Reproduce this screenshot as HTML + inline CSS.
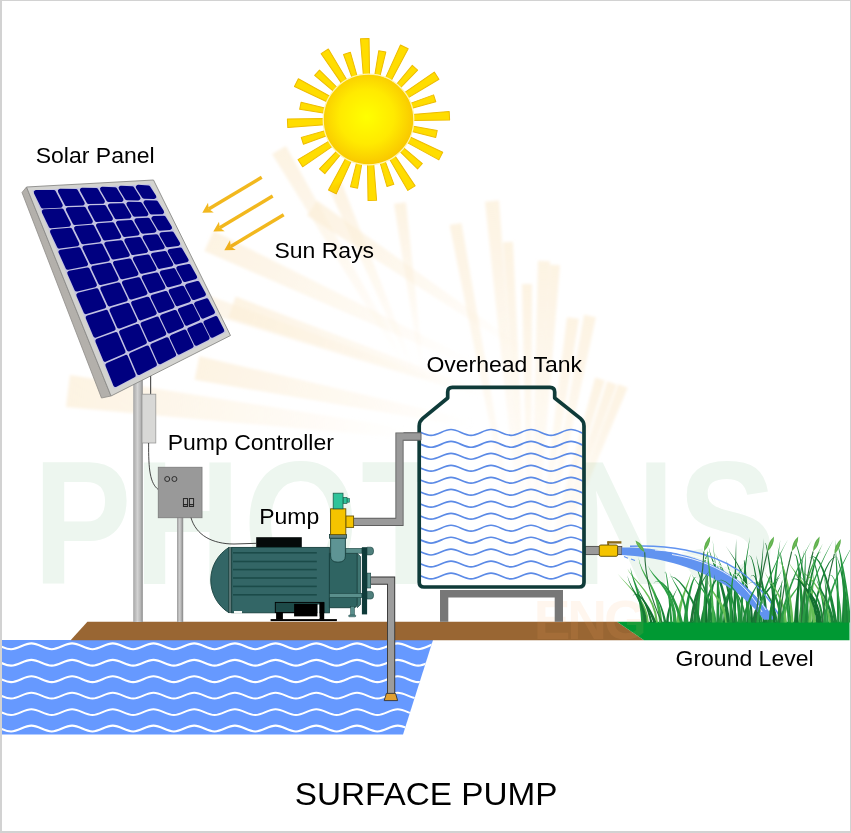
<!DOCTYPE html>
<html><head><meta charset="utf-8"><title>Surface Pump</title>
<style>html,body{margin:0;padding:0;background:#fff;}body{width:851px;height:833px;overflow:hidden;font-family:"Liberation Sans",sans-serif;}svg{display:block;}</style>
</head><body>
<svg width="851" height="833" viewBox="0 0 851 833">
<defs>
<radialGradient id="sunG" cx="0.48" cy="0.47" r="0.55">
  <stop offset="0" stop-color="#ffff00"/>
  <stop offset="0.55" stop-color="#ffea00"/>
  <stop offset="1" stop-color="#f8c400"/>
</radialGradient>
<linearGradient id="poleG" x1="0" y1="0" x2="1" y2="0">
  <stop offset="0" stop-color="#a6a6a6"/>
  <stop offset="0.45" stop-color="#d2d2d2"/>
  <stop offset="0.75" stop-color="#b8b8b8"/>
  <stop offset="1" stop-color="#8a8a8a"/>
</linearGradient>
<linearGradient id="pole2G" x1="0" y1="0" x2="1" y2="0">
  <stop offset="0" stop-color="#9c9c9c"/>
  <stop offset="0.45" stop-color="#d0d0d0"/>
  <stop offset="1" stop-color="#858585"/>
</linearGradient>
<radialGradient id="beamR" gradientUnits="userSpaceOnUse" cx="540" cy="730" r="600">
  <stop offset="0" stop-color="#fbe2b8" stop-opacity="0"/>
  <stop offset="0.45" stop-color="#fbe2b8" stop-opacity="0.10"/>
  <stop offset="0.8" stop-color="#fbe2b8" stop-opacity="0.45"/>
  <stop offset="1" stop-color="#fbe2b8" stop-opacity="0.5"/>
</radialGradient>
</defs>
<rect x="0" y="0" width="851" height="833" fill="#ffffff"/>
<text transform="translate(33,583.5) scale(0.84,1)" font-family="Liberation Sans" font-weight="bold" font-size="176" letter-spacing="3" fill="#edf6ef">PHOTONS</text>
<g transform="translate(368.5,119.5)">
<polygon transform="rotate(-2.65)" points="-3.1,-44 -4.3,-81 4.3,-81 3.1,-44" fill="#ffdd00" stroke="#eebc00" stroke-width="1" stroke-linejoin="round"/>
<polygon transform="rotate(11.45)" points="-2.6,-44 -3.6,-69.5 3.6,-69.5 2.6,-44" fill="#ffdd00" stroke="#eebc00" stroke-width="1" stroke-linejoin="round"/>
<polygon transform="rotate(26.25)" points="-3.1,-44 -4.3,-81 4.3,-81 3.1,-44" fill="#ffdd00" stroke="#eebc00" stroke-width="1" stroke-linejoin="round"/>
<polygon transform="rotate(41.95)" points="-2.6,-44 -3.6,-69.5 3.6,-69.5 2.6,-44" fill="#ffdd00" stroke="#eebc00" stroke-width="1" stroke-linejoin="round"/>
<polygon transform="rotate(57.25)" points="-3.1,-44 -4.3,-81 4.3,-81 3.1,-44" fill="#ffdd00" stroke="#eebc00" stroke-width="1" stroke-linejoin="round"/>
<polygon transform="rotate(72.25)" points="-2.6,-44 -3.6,-69.5 3.6,-69.5 2.6,-44" fill="#ffdd00" stroke="#eebc00" stroke-width="1" stroke-linejoin="round"/>
<polygon transform="rotate(87.4)" points="-3.1,-44 -4.3,-81 4.3,-81 3.1,-44" fill="#ffdd00" stroke="#eebc00" stroke-width="1" stroke-linejoin="round"/>
<polygon transform="rotate(102)" points="-2.6,-44 -3.6,-69.5 3.6,-69.5 2.6,-44" fill="#ffdd00" stroke="#eebc00" stroke-width="1" stroke-linejoin="round"/>
<polygon transform="rotate(116.8)" points="-3.1,-44 -4.3,-81 4.3,-81 3.1,-44" fill="#ffdd00" stroke="#eebc00" stroke-width="1" stroke-linejoin="round"/>
<polygon transform="rotate(132.2)" points="-2.6,-44 -3.6,-69.5 3.6,-69.5 2.6,-44" fill="#ffdd00" stroke="#eebc00" stroke-width="1" stroke-linejoin="round"/>
<polygon transform="rotate(147.95)" points="-3.1,-44 -4.3,-81 4.3,-81 3.1,-44" fill="#ffdd00" stroke="#eebc00" stroke-width="1" stroke-linejoin="round"/>
<polygon transform="rotate(161.6)" points="-2.6,-44 -3.6,-69.5 3.6,-69.5 2.6,-44" fill="#ffdd00" stroke="#eebc00" stroke-width="1" stroke-linejoin="round"/>
<polygon transform="rotate(177.3)" points="-3.1,-44 -4.3,-81 4.3,-81 3.1,-44" fill="#ffdd00" stroke="#eebc00" stroke-width="1" stroke-linejoin="round"/>
<polygon transform="rotate(192)" points="-2.6,-44 -3.6,-69.5 3.6,-69.5 2.6,-44" fill="#ffdd00" stroke="#eebc00" stroke-width="1" stroke-linejoin="round"/>
<polygon transform="rotate(206.5)" points="-3.1,-44 -4.3,-81 4.3,-81 3.1,-44" fill="#ffdd00" stroke="#eebc00" stroke-width="1" stroke-linejoin="round"/>
<polygon transform="rotate(221.85)" points="-2.6,-44 -3.6,-69.5 3.6,-69.5 2.6,-44" fill="#ffdd00" stroke="#eebc00" stroke-width="1" stroke-linejoin="round"/>
<polygon transform="rotate(237.35)" points="-3.1,-44 -4.3,-81 4.3,-81 3.1,-44" fill="#ffdd00" stroke="#eebc00" stroke-width="1" stroke-linejoin="round"/>
<polygon transform="rotate(252.15)" points="-2.6,-44 -3.6,-69.5 3.6,-69.5 2.6,-44" fill="#ffdd00" stroke="#eebc00" stroke-width="1" stroke-linejoin="round"/>
<polygon transform="rotate(267.3)" points="-3.1,-44 -4.3,-81 4.3,-81 3.1,-44" fill="#ffdd00" stroke="#eebc00" stroke-width="1" stroke-linejoin="round"/>
<polygon transform="rotate(281.4)" points="-2.6,-44 -3.6,-69.5 3.6,-69.5 2.6,-44" fill="#ffdd00" stroke="#eebc00" stroke-width="1" stroke-linejoin="round"/>
<polygon transform="rotate(297.1)" points="-3.1,-44 -4.3,-81 4.3,-81 3.1,-44" fill="#ffdd00" stroke="#eebc00" stroke-width="1" stroke-linejoin="round"/>
<polygon transform="rotate(312.25)" points="-2.6,-44 -3.6,-69.5 3.6,-69.5 2.6,-44" fill="#ffdd00" stroke="#eebc00" stroke-width="1" stroke-linejoin="round"/>
<polygon transform="rotate(327.3)" points="-3.1,-44 -4.3,-81 4.3,-81 3.1,-44" fill="#ffdd00" stroke="#eebc00" stroke-width="1" stroke-linejoin="round"/>
<polygon transform="rotate(341.95)" points="-2.6,-44 -3.6,-69.5 3.6,-69.5 2.6,-44" fill="#ffdd00" stroke="#eebc00" stroke-width="1" stroke-linejoin="round"/>
<circle cx="0" cy="0" r="45.3" fill="url(#sunG)" stroke="#fff4b0" stroke-width="1.2"/>
</g>
<line x1="261.7" y1="177.3" x2="208.74" y2="208.95" stroke="#f2b81e" stroke-width="3.4"/><polygon points="202.3,212.8 208.01,202.86 208.74,208.95 213.76,212.48" fill="#f2b81e"/>
<line x1="272.7" y1="196" x2="219.73" y2="227.74" stroke="#f2b81e" stroke-width="3.4"/><polygon points="213.3,231.6 219,221.66 219.73,227.74 224.76,231.26" fill="#f2b81e"/>
<line x1="283.7" y1="214.8" x2="230.74" y2="246.45" stroke="#f2b81e" stroke-width="3.4"/><polygon points="224.3,250.3 230.01,240.36 230.74,246.45 235.76,249.98" fill="#f2b81e"/>
<clipPath id="wclip"><polygon points="2,640 433,640 403,734.5 2,734.5"/></clipPath>
<polygon points="2,640 433,640 403,734.5 2,734.5" fill="#6699ff"/>
<g clip-path="url(#wclip)" fill="none" stroke="#ffffff" stroke-width="2.1" stroke-linecap="round">
<path d="M-9.3,643.4C-1.82,643.4 3.57,649.2 11.05,649.2C18.53,649.2 23.92,643.4 31.4,643.4C38.88,643.4 44.27,649.2 51.75,649.2C59.23,649.2 64.62,643.4 72.1,643.4C79.58,643.4 84.97,649.2 92.45,649.2C99.93,649.2 105.32,643.4 112.8,643.4C120.28,643.4 125.67,649.2 133.15,649.2C140.63,649.2 146.02,643.4 153.5,643.4C160.98,643.4 166.37,649.2 173.85,649.2C181.33,649.2 186.72,643.4 194.2,643.4C201.68,643.4 207.07,649.2 214.55,649.2C222.03,649.2 227.42,643.4 234.9,643.4C242.38,643.4 247.77,649.2 255.25,649.2C262.73,649.2 268.12,643.4 275.6,643.4C283.08,643.4 288.47,649.2 295.95,649.2C303.43,649.2 308.82,643.4 316.3,643.4C323.78,643.4 329.17,649.2 336.65,649.2C344.13,649.2 349.52,643.4 357,643.4C364.48,643.4 369.87,649.2 377.35,649.2C384.83,649.2 390.22,643.4 397.7,643.4C405.18,643.4 410.57,649.2 418.05,649.2C425.53,649.2 430.92,643.4 438.4,643.4C445.88,643.4 451.27,649.2 458.75,649.2"/>
<path d="M-9.3,659.85C-1.82,659.85 3.57,665.65 11.05,665.65C18.53,665.65 23.92,659.85 31.4,659.85C38.88,659.85 44.27,665.65 51.75,665.65C59.23,665.65 64.62,659.85 72.1,659.85C79.58,659.85 84.97,665.65 92.45,665.65C99.93,665.65 105.32,659.85 112.8,659.85C120.28,659.85 125.67,665.65 133.15,665.65C140.63,665.65 146.02,659.85 153.5,659.85C160.98,659.85 166.37,665.65 173.85,665.65C181.33,665.65 186.72,659.85 194.2,659.85C201.68,659.85 207.07,665.65 214.55,665.65C222.03,665.65 227.42,659.85 234.9,659.85C242.38,659.85 247.77,665.65 255.25,665.65C262.73,665.65 268.12,659.85 275.6,659.85C283.08,659.85 288.47,665.65 295.95,665.65C303.43,665.65 308.82,659.85 316.3,659.85C323.78,659.85 329.17,665.65 336.65,665.65C344.13,665.65 349.52,659.85 357,659.85C364.48,659.85 369.87,665.65 377.35,665.65C384.83,665.65 390.22,659.85 397.7,659.85C405.18,659.85 410.57,665.65 418.05,665.65C425.53,665.65 430.92,659.85 438.4,659.85C445.88,659.85 451.27,665.65 458.75,665.65"/>
<path d="M-9.3,676.3C-1.82,676.3 3.57,682.1 11.05,682.1C18.53,682.1 23.92,676.3 31.4,676.3C38.88,676.3 44.27,682.1 51.75,682.1C59.23,682.1 64.62,676.3 72.1,676.3C79.58,676.3 84.97,682.1 92.45,682.1C99.93,682.1 105.32,676.3 112.8,676.3C120.28,676.3 125.67,682.1 133.15,682.1C140.63,682.1 146.02,676.3 153.5,676.3C160.98,676.3 166.37,682.1 173.85,682.1C181.33,682.1 186.72,676.3 194.2,676.3C201.68,676.3 207.07,682.1 214.55,682.1C222.03,682.1 227.42,676.3 234.9,676.3C242.38,676.3 247.77,682.1 255.25,682.1C262.73,682.1 268.12,676.3 275.6,676.3C283.08,676.3 288.47,682.1 295.95,682.1C303.43,682.1 308.82,676.3 316.3,676.3C323.78,676.3 329.17,682.1 336.65,682.1C344.13,682.1 349.52,676.3 357,676.3C364.48,676.3 369.87,682.1 377.35,682.1C384.83,682.1 390.22,676.3 397.7,676.3C405.18,676.3 410.57,682.1 418.05,682.1C425.53,682.1 430.92,676.3 438.4,676.3C445.88,676.3 451.27,682.1 458.75,682.1"/>
<path d="M-9.3,692.75C-1.82,692.75 3.57,698.55 11.05,698.55C18.53,698.55 23.92,692.75 31.4,692.75C38.88,692.75 44.27,698.55 51.75,698.55C59.23,698.55 64.62,692.75 72.1,692.75C79.58,692.75 84.97,698.55 92.45,698.55C99.93,698.55 105.32,692.75 112.8,692.75C120.28,692.75 125.67,698.55 133.15,698.55C140.63,698.55 146.02,692.75 153.5,692.75C160.98,692.75 166.37,698.55 173.85,698.55C181.33,698.55 186.72,692.75 194.2,692.75C201.68,692.75 207.07,698.55 214.55,698.55C222.03,698.55 227.42,692.75 234.9,692.75C242.38,692.75 247.77,698.55 255.25,698.55C262.73,698.55 268.12,692.75 275.6,692.75C283.08,692.75 288.47,698.55 295.95,698.55C303.43,698.55 308.82,692.75 316.3,692.75C323.78,692.75 329.17,698.55 336.65,698.55C344.13,698.55 349.52,692.75 357,692.75C364.48,692.75 369.87,698.55 377.35,698.55C384.83,698.55 390.22,692.75 397.7,692.75C405.18,692.75 410.57,698.55 418.05,698.55C425.53,698.55 430.92,692.75 438.4,692.75C445.88,692.75 451.27,698.55 458.75,698.55"/>
<path d="M-9.3,709.2C-1.82,709.2 3.57,715 11.05,715C18.53,715 23.92,709.2 31.4,709.2C38.88,709.2 44.27,715 51.75,715C59.23,715 64.62,709.2 72.1,709.2C79.58,709.2 84.97,715 92.45,715C99.93,715 105.32,709.2 112.8,709.2C120.28,709.2 125.67,715 133.15,715C140.63,715 146.02,709.2 153.5,709.2C160.98,709.2 166.37,715 173.85,715C181.33,715 186.72,709.2 194.2,709.2C201.68,709.2 207.07,715 214.55,715C222.03,715 227.42,709.2 234.9,709.2C242.38,709.2 247.77,715 255.25,715C262.73,715 268.12,709.2 275.6,709.2C283.08,709.2 288.47,715 295.95,715C303.43,715 308.82,709.2 316.3,709.2C323.78,709.2 329.17,715 336.65,715C344.13,715 349.52,709.2 357,709.2C364.48,709.2 369.87,715 377.35,715C384.83,715 390.22,709.2 397.7,709.2C405.18,709.2 410.57,715 418.05,715C425.53,715 430.92,709.2 438.4,709.2C445.88,709.2 451.27,715 458.75,715"/>
<path d="M-9.3,725.65C-1.82,725.65 3.57,731.45 11.05,731.45C18.53,731.45 23.92,725.65 31.4,725.65C38.88,725.65 44.27,731.45 51.75,731.45C59.23,731.45 64.62,725.65 72.1,725.65C79.58,725.65 84.97,731.45 92.45,731.45C99.93,731.45 105.32,725.65 112.8,725.65C120.28,725.65 125.67,731.45 133.15,731.45C140.63,731.45 146.02,725.65 153.5,725.65C160.98,725.65 166.37,731.45 173.85,731.45C181.33,731.45 186.72,725.65 194.2,725.65C201.68,725.65 207.07,731.45 214.55,731.45C222.03,731.45 227.42,725.65 234.9,725.65C242.38,725.65 247.77,731.45 255.25,731.45C262.73,731.45 268.12,725.65 275.6,725.65C283.08,725.65 288.47,731.45 295.95,731.45C303.43,731.45 308.82,725.65 316.3,725.65C323.78,725.65 329.17,731.45 336.65,731.45C344.13,731.45 349.52,725.65 357,725.65C364.48,725.65 369.87,731.45 377.35,731.45C384.83,731.45 390.22,725.65 397.7,725.65C405.18,725.65 410.57,731.45 418.05,731.45C425.53,731.45 430.92,725.65 438.4,725.65C445.88,725.65 451.27,731.45 458.75,731.45"/>
</g>
<polygon points="87.4,621.7 617,621.7 644,640.3 70.6,640.3" fill="#996633"/><polygon points="617,621.7 849.5,621.7 849.5,640.3 644,640.3" fill="#009933"/>
<text x="533.7" y="639" font-family="Liberation Sans" font-weight="bold" font-size="55" letter-spacing="-3" fill="#ffb060" fill-opacity="0.11">ENG</text>
<path d="M353.6,521.9 H399.5 V436.5 H420" fill="none" stroke="#5f5f5f" stroke-width="8.2" stroke-linejoin="miter"/>
<path d="M353.6,521.9 H399.5 V436.5 H420" fill="none" stroke="#9a9a9a" stroke-width="6.4" stroke-linejoin="miter"/>
<path d="M370.7,580.6 H391.1 V693.6" fill="none" stroke="#333" stroke-width="8.2" stroke-linejoin="miter"/>
<path d="M370.7,580.6 H391.1 V693.6" fill="none" stroke="#9c9c9c" stroke-width="6.4" stroke-linejoin="miter"/>
<polygon points="386.4,693.4 395.6,693.4 397.6,700.6 384.2,700.6" fill="#e0a030" stroke="#333" stroke-width="0.9" stroke-linejoin="round"/>
<path d="M229,547.4 A38.4,38.4 0 0 0 229,612.8 Z" fill="#336666" stroke="#163f3d" stroke-width="0.9"/>
<rect x="228.8" y="547.4" width="2.9" height="65.4" fill="#5d7675" stroke="#163f3d" stroke-width="0.5"/>
<rect x="256.2" y="537.2" width="45.6" height="10.6" fill="#050a0a"/>
<rect x="231.7" y="547.4" width="97.7" height="65.4" fill="#336666" stroke="#163f3d" stroke-width="0.9"/>
<rect x="233" y="552" width="83.8" height="1.6" fill="#1b4b49"/>
<rect x="233" y="560.7" width="83.8" height="1.6" fill="#1b4b49"/>
<rect x="233" y="568.8" width="83.8" height="1.6" fill="#1b4b49"/>
<rect x="233" y="577.2" width="83.8" height="1.6" fill="#1b4b49"/>
<rect x="233" y="585.6" width="83.8" height="1.6" fill="#1b4b49"/>
<rect x="233" y="594" width="83.8" height="1.6" fill="#1b4b49"/>
<rect x="234" y="611" width="8" height="2.6" fill="#f4f8f6"/>
<rect x="275.3" y="602.4" width="48.6" height="10.2" fill="#1d4a48" stroke="#000" stroke-width="0.9"/>
<rect x="276.1" y="612" width="6.8" height="7.6" fill="#000"/>
<rect x="294.1" y="603.9" width="23.5" height="12.7" fill="#000"/>
<rect x="317.6" y="604.5" width="1.9" height="12.5" fill="#ffffff"/>
<rect x="319.5" y="602.4" width="4.7" height="17.2" fill="#000"/>
<rect x="294.1" y="616.6" width="25.4" height="1.2" fill="#ffffff"/>
<rect x="270.6" y="619.1" width="66.3" height="2" fill="#000"/>
<path d="M329.4,553.4 H357.3 V603.5 Q357.3,607.7 353,607.7 H329.4 Z" fill="#2f6462" stroke="#163f3d" stroke-width="0.9"/>
<path d="M357.3,553.4 L360.5,556.5 V604.5 L357.3,607.7 Z" fill="#3f7572" stroke="#163f3d" stroke-width="0.7"/>
<rect x="345.8" y="548.4" width="16.1" height="4.8" fill="#5a8f8c" stroke="#163f3d" stroke-width="0.6"/>
<rect x="329.4" y="593.3" width="32.5" height="4.3" fill="#5a8f8c" stroke="#163f3d" stroke-width="0.6"/>
<rect x="350.6" y="606.3" width="3.8" height="9" fill="#5a8f8c" stroke="#163f3d" stroke-width="0.5"/>
<rect x="348.6" y="615" width="7.2" height="1.8" rx="0.9" fill="#5a8f8c" stroke="#163f3d" stroke-width="0.5"/>
<path d="M367.1,547.2 H371 A2.6,3.85 0 0 1 371,554.9 H367.1 Z" fill="#4f7f7c" stroke="#163f3d" stroke-width="0.6"/>
<path d="M367.1,591.4 H371 A2.6,3.8 0 0 1 371,599 H367.1 Z" fill="#4f7f7c" stroke="#163f3d" stroke-width="0.6"/>
<rect x="367.1" y="573.1" width="3.6" height="14.9" fill="#5a8f8c" stroke="#163f3d" stroke-width="0.6"/>
<rect x="361.9" y="547.2" width="5.2" height="67.2" fill="#0f3b39"/>
<path d="M330.6,538.2 H345.4 V556 Q345.4,562.2 338,562.2 Q330.6,562.2 330.6,556 Z" fill="#5e9494" stroke="#163f3d" stroke-width="0.9"/>
<rect x="329.4" y="534.6" width="17" height="3.6" fill="#5f8080" stroke="#163f3d" stroke-width="0.8"/>
<rect x="345.8" y="516" width="7.8" height="11.4" fill="#f5c400" stroke="#6b5500" stroke-width="0.9"/>
<rect x="330.6" y="508.8" width="15.2" height="25.8" fill="#f5c400" stroke="#6b5500" stroke-width="0.9"/>
<rect x="347" y="498.6" width="2.4" height="3.6" fill="#2ec49a" stroke="#1b5f4d" stroke-width="0.6"/>
<rect x="343" y="497.4" width="4" height="6" fill="#2ec49a" stroke="#1b5f4d" stroke-width="0.7"/>
<rect x="333.2" y="493.2" width="9.8" height="15.6" fill="#2ec49a" stroke="#1b5f4d" stroke-width="0.8"/>
<rect x="440" y="590" width="123" height="7.5" fill="#777777"/>
<rect x="440" y="590" width="8.3" height="31.8" fill="#777777"/>
<rect x="554.7" y="590" width="8.3" height="31.8" fill="#777777"/>
<path d="M447.7,398 V392 Q447.7,387.3 452.4,387.3 H550 Q554.7,387.3 554.7,392 V398 L580.4,418.4 Q584,421.4 584,426 V582.2 Q584,587 579.2,587 H424 Q419.2,587 419.2,582.2 V426 Q419.2,421.4 422.8,418.4 Z" fill="#ffffff"/>
<rect x="585.5" y="546.4" width="36.3" height="8.2" fill="#9a9a9a" stroke="#4a4a4a" stroke-width="0.9"/>
<rect x="607.3" y="541.5" width="1.8" height="4" fill="#8b6a1a"/>
<rect x="607.3" y="541.2" width="14.1" height="2.4" fill="#8b6a1a"/>
<rect x="599.3" y="545" width="18.3" height="11.3" rx="1.5" fill="#f5c400" stroke="#5a4800" stroke-width="0.9"/>
<g style="mix-blend-mode:multiply"><defs><filter id="bblur" x="-20%" y="-20%" width="140%" height="140%"><feGaussianBlur stdDeviation="1.6"/></filter>
<linearGradient id="bm0" gradientUnits="userSpaceOnUse" x1="279" y1="150" x2="403.95" y2="362.5"><stop offset="0" stop-color="#fcefd9" stop-opacity="0.75"/><stop offset="0.2" stop-color="#fcefd9" stop-opacity="0.62"/><stop offset="1" stop-color="#fcefd9" stop-opacity="0"/></linearGradient>
<linearGradient id="bm1" gradientUnits="userSpaceOnUse" x1="335" y1="185" x2="412.35" y2="367.75"><stop offset="0" stop-color="#fcefd9" stop-opacity="0.75"/><stop offset="0.2" stop-color="#fcefd9" stop-opacity="0.62"/><stop offset="1" stop-color="#fcefd9" stop-opacity="0"/></linearGradient>
<linearGradient id="bm2" gradientUnits="userSpaceOnUse" x1="400" y1="203" x2="422.1" y2="370.45"><stop offset="0" stop-color="#fcefd9" stop-opacity="0.75"/><stop offset="0.2" stop-color="#fcefd9" stop-opacity="0.62"/><stop offset="1" stop-color="#fcefd9" stop-opacity="0"/></linearGradient>
<linearGradient id="bm3" gradientUnits="userSpaceOnUse" x1="68" y1="391" x2="415.6" y2="434.45"><stop offset="0" stop-color="#fcefd9" stop-opacity="0.75"/><stop offset="0.2" stop-color="#fcefd9" stop-opacity="0.62"/><stop offset="1" stop-color="#fcefd9" stop-opacity="0"/></linearGradient>
<linearGradient id="bm4" gradientUnits="userSpaceOnUse" x1="197" y1="368" x2="473.65" y2="424.1"><stop offset="0" stop-color="#fcefd9" stop-opacity="0.75"/><stop offset="0.2" stop-color="#fcefd9" stop-opacity="0.62"/><stop offset="1" stop-color="#fcefd9" stop-opacity="0"/></linearGradient>
<linearGradient id="bm5" gradientUnits="userSpaceOnUse" x1="232" y1="307" x2="489.4" y2="396.65"><stop offset="0" stop-color="#fcefd9" stop-opacity="0.75"/><stop offset="0.2" stop-color="#fcefd9" stop-opacity="0.62"/><stop offset="1" stop-color="#fcefd9" stop-opacity="0"/></linearGradient>
<linearGradient id="bm6" gradientUnits="userSpaceOnUse" x1="209" y1="241" x2="479.05" y2="366.95"><stop offset="0" stop-color="#fcefd9" stop-opacity="0.75"/><stop offset="0.2" stop-color="#fcefd9" stop-opacity="0.62"/><stop offset="1" stop-color="#fcefd9" stop-opacity="0"/></linearGradient>
<linearGradient id="bm7" gradientUnits="userSpaceOnUse" x1="150" y1="285" x2="452.5" y2="386.75"><stop offset="0" stop-color="#fcefd9" stop-opacity="0.75"/><stop offset="0.2" stop-color="#fcefd9" stop-opacity="0.62"/><stop offset="1" stop-color="#fcefd9" stop-opacity="0"/></linearGradient>
<linearGradient id="bm8" gradientUnits="userSpaceOnUse" x1="312" y1="208" x2="525.4" y2="352.1"><stop offset="0" stop-color="#fcefd9" stop-opacity="0.75"/><stop offset="0.2" stop-color="#fcefd9" stop-opacity="0.62"/><stop offset="1" stop-color="#fcefd9" stop-opacity="0"/></linearGradient>
<linearGradient id="bm9" gradientUnits="userSpaceOnUse" x1="455.5" y1="224" x2="515.1" y2="540.8"><stop offset="0" stop-color="#fcefd9" stop-opacity="0.75"/><stop offset="0.2" stop-color="#fcefd9" stop-opacity="0.62"/><stop offset="1" stop-color="#fcefd9" stop-opacity="0"/></linearGradient>
<linearGradient id="bm10" gradientUnits="userSpaceOnUse" x1="492" y1="201" x2="522.4" y2="536.2"><stop offset="0" stop-color="#fcefd9" stop-opacity="0.75"/><stop offset="0.2" stop-color="#fcefd9" stop-opacity="0.62"/><stop offset="1" stop-color="#fcefd9" stop-opacity="0"/></linearGradient>
<linearGradient id="bm11" gradientUnits="userSpaceOnUse" x1="508" y1="242" x2="525.6" y2="544.4"><stop offset="0" stop-color="#fcefd9" stop-opacity="0.75"/><stop offset="0.2" stop-color="#fcefd9" stop-opacity="0.62"/><stop offset="1" stop-color="#fcefd9" stop-opacity="0"/></linearGradient>
<linearGradient id="bm12" gradientUnits="userSpaceOnUse" x1="527" y1="284" x2="529.4" y2="552.8"><stop offset="0" stop-color="#fcefd9" stop-opacity="0.75"/><stop offset="0.2" stop-color="#fcefd9" stop-opacity="0.62"/><stop offset="1" stop-color="#fcefd9" stop-opacity="0"/></linearGradient>
<linearGradient id="bm13" gradientUnits="userSpaceOnUse" x1="544" y1="261" x2="532.8" y2="548.2"><stop offset="0" stop-color="#fcefd9" stop-opacity="0.75"/><stop offset="0.2" stop-color="#fcefd9" stop-opacity="0.62"/><stop offset="1" stop-color="#fcefd9" stop-opacity="0"/></linearGradient>
<linearGradient id="bm14" gradientUnits="userSpaceOnUse" x1="555" y1="265" x2="535" y2="549"><stop offset="0" stop-color="#fcefd9" stop-opacity="0.75"/><stop offset="0.2" stop-color="#fcefd9" stop-opacity="0.62"/><stop offset="1" stop-color="#fcefd9" stop-opacity="0"/></linearGradient>
<linearGradient id="bm15" gradientUnits="userSpaceOnUse" x1="573" y1="318" x2="538.6" y2="559.6"><stop offset="0" stop-color="#fcefd9" stop-opacity="0.75"/><stop offset="0.2" stop-color="#fcefd9" stop-opacity="0.62"/><stop offset="1" stop-color="#fcefd9" stop-opacity="0"/></linearGradient>
<linearGradient id="bm16" gradientUnits="userSpaceOnUse" x1="590" y1="316" x2="542" y2="559.2"><stop offset="0" stop-color="#fcefd9" stop-opacity="0.75"/><stop offset="0.2" stop-color="#fcefd9" stop-opacity="0.62"/><stop offset="1" stop-color="#fcefd9" stop-opacity="0"/></linearGradient>
<linearGradient id="bm17" gradientUnits="userSpaceOnUse" x1="600" y1="379" x2="544" y2="571.8"><stop offset="0" stop-color="#fcefd9" stop-opacity="0.75"/><stop offset="0.2" stop-color="#fcefd9" stop-opacity="0.62"/><stop offset="1" stop-color="#fcefd9" stop-opacity="0"/></linearGradient>
<linearGradient id="bm18" gradientUnits="userSpaceOnUse" x1="612" y1="383" x2="546.4" y2="572.6"><stop offset="0" stop-color="#fcefd9" stop-opacity="0.75"/><stop offset="0.2" stop-color="#fcefd9" stop-opacity="0.62"/><stop offset="1" stop-color="#fcefd9" stop-opacity="0"/></linearGradient>
<linearGradient id="bm19" gradientUnits="userSpaceOnUse" x1="623" y1="386" x2="548.6" y2="573.2"><stop offset="0" stop-color="#fcefd9" stop-opacity="0.75"/><stop offset="0.2" stop-color="#fcefd9" stop-opacity="0.62"/><stop offset="1" stop-color="#fcefd9" stop-opacity="0"/></linearGradient>
</defs>
<g filter="url(#bblur)"><polygon fill="url(#bm0)" points="406.02,361.28 285.9,145.95 272.1,154.05 401.88,363.72"/>
<polygon fill="url(#bm1)" points="414.28,366.93 341.45,182.27 328.55,187.73 410.42,368.57"/>
<polygon fill="url(#bm2)" points="423.88,370.21 405.95,202.21 394.05,203.79 420.32,370.69"/>
<polygon fill="url(#bm3)" points="416.2,429.69 69.98,375.12 66.02,406.88 415,439.21"/>
<polygon fill="url(#bm4)" points="474.37,420.57 199.38,356.24 194.62,379.76 472.93,427.63"/>
<polygon fill="url(#bm5)" points="490.49,393.53 235.62,296.61 228.38,317.39 488.31,399.77"/>
<polygon fill="url(#bm6)" points="480.44,363.96 213.65,231.03 204.35,250.97 477.66,369.94"/>
<polygon fill="url(#bm7)" points="453.46,383.91 153.19,275.52 146.81,294.48 451.54,389.59"/>
<polygon fill="url(#bm8)" points="526.91,349.86 317.04,200.54 306.96,215.46 523.89,354.34"/>
<polygon fill="url(#bm9)" points="516.87,540.47 461.4,222.89 449.6,225.11 513.33,541.13"/>
<polygon fill="url(#bm10)" points="524.49,536.01 498.97,200.37 485.03,201.63 520.31,536.39"/>
<polygon fill="url(#bm11)" points="527.1,544.31 512.99,241.71 503.01,242.29 524.1,544.49"/>
<polygon fill="url(#bm12)" points="530.9,552.79 532,283.96 522,284.04 527.9,552.81"/>
<polygon fill="url(#bm13)" points="534.6,548.27 550,261.23 538,260.77 531,548.13"/>
<polygon fill="url(#bm14)" points="536.5,549.11 559.99,265.35 550.01,264.65 533.5,548.89"/>
<polygon fill="url(#bm15)" points="540.38,559.85 578.94,318.85 567.06,317.15 536.82,559.35"/>
<polygon fill="url(#bm16)" points="543.77,559.55 595.89,317.16 584.11,314.84 540.23,558.85"/>
<polygon fill="url(#bm17)" points="545.44,572.22 604.8,380.39 595.2,377.61 542.56,571.38"/>
<polygon fill="url(#bm18)" points="547.82,573.09 616.73,384.63 607.27,381.37 544.98,572.11"/>
<polygon fill="url(#bm19)" points="549.99,573.75 627.65,387.85 618.35,384.15 547.21,572.65"/></g></g>
<rect x="133.2" y="370" width="9.6" height="252" fill="url(#poleG)"/>
<rect x="177" y="515" width="6.2" height="107" fill="url(#pole2G)"/>
<g><polygon points="26.5,187 22,192.5 101.5,398 111,396" fill="#b3b0ab" stroke="#8e8c88" stroke-width="0.8" stroke-linejoin="round"/><polygon points="26.5,187 153.5,180 230.5,335.5 111,396" fill="#d3d3d0" stroke="#8a8a88" stroke-width="0.9" stroke-linejoin="round"/><polygon points="32.3,190.3 150.2,184 225.9,332.3 114,388.7" fill="#c2c2e2"/><g fill="#000080" stroke="#000080" stroke-width="4.6" stroke-linejoin="round"><polygon points="36.13,192.4 53.67,192.42 60.46,205.37 42.9,206.11"/><polygon points="60.22,191.15 75.82,191.35 82.46,203.32 66.86,203.81"/><polygon points="82.21,190.01 96.16,190.38 102.61,201.45 88.69,201.71"/><polygon points="102.37,188.97 114.88,189.48 121.13,199.72 108.66,199.78"/><polygon points="120.93,188.01 132.17,188.66 138.22,198.13 127.02,198.01"/><polygon points="138.05,187.12 148.2,187.89 154.02,196.66 143.93,196.39"/><polygon points="44.09,211.63 61.74,210.9 68.61,224.34 50.95,225.89"/><polygon points="68.17,209.48 83.87,209 90.57,221.42 74.88,222.64"/><polygon points="90.13,207.52 104.15,207.27 110.65,218.75 96.67,219.67"/><polygon points="110.24,205.72 122.8,205.67 129.09,216.29 116.58,216.96"/><polygon points="128.72,204.07 140.01,204.2 146.08,214.03 134.85,214.47"/><polygon points="145.76,202.55 155.94,202.83 161.78,211.94 151.67,212.18"/><polygon points="52.31,231.48 70.07,229.93 77.01,243.91 59.25,246.33"/><polygon points="76.37,228.37 92.15,227.15 98.91,240.05 83.16,242.06"/><polygon points="98.28,225.53 112.36,224.61 118.92,236.54 104.89,238.17"/><polygon points="118.32,222.94 130.92,222.28 137.26,233.31 124.72,234.62"/><polygon points="136.71,220.57 148.04,220.13 154.14,230.34 142.9,231.37"/><polygon points="153.66,218.38 163.86,218.13 169.73,227.59 159.61,228.38"/><polygon points="60.79,251.97 78.64,249.54 85.68,264.08 67.84,267.45"/><polygon points="84.82,247.83 100.67,245.83 107.51,259.25 91.7,262.1"/><polygon points="106.67,244.08 120.8,242.44 127.42,254.83 113.36,257.24"/><polygon points="126.63,240.65 139.26,239.32 145.66,250.79 133.1,252.81"/><polygon points="144.93,237.5 156.27,236.46 162.42,247.08 151.17,248.75"/><polygon points="161.77,234.61 171.97,233.81 177.88,243.65 167.77,245.03"/><polygon points="69.55,273.13 87.48,269.75 94.62,284.91 76.72,289.29"/><polygon points="93.54,267.91 109.43,265.05 116.36,279.03 100.52,282.79"/><polygon points="115.31,263.18 129.47,260.76 136.17,273.67 122.1,276.9"/><polygon points="135.18,258.86 147.82,256.83 154.28,268.76 141.73,271.53"/><polygon points="153.37,254.9 164.71,253.21 170.92,264.26 159.69,266.62"/><polygon points="170.09,251.27 180.29,249.88 186.25,260.11 176.16,262.12"/><polygon points="78.6,295 96.6,290.6 103.85,306.41 85.91,311.88"/><polygon points="102.53,288.63 118.46,284.85 125.49,299.42 109.64,304.16"/><polygon points="124.22,282.85 138.39,279.6 145.17,293.06 131.11,297.17"/><polygon points="143.98,277.59 156.62,274.81 163.15,287.24 150.63,290.81"/><polygon points="162.04,272.79 173.37,270.41 179.65,281.91 168.45,285.01"/><polygon points="178.63,268.37 188.81,266.34 194.82,277.01 184.78,279.69"/><polygon points="87.97,317.61 106,312.11 113.38,328.62 95.42,335.27"/><polygon points="111.81,310.01 127.76,305.24 134.9,320.45 119.06,326.24"/><polygon points="133.4,303.13 147.56,299 154.45,313.03 140.41,318.08"/><polygon points="153.03,296.88 165.65,293.29 172.28,306.25 159.79,310.68"/><polygon points="170.96,291.17 182.25,288.05 188.61,300.05 177.46,303.92"/><polygon points="187.41,285.94 197.54,283.23 203.63,294.35 193.64,297.74"/><polygon points="97.65,341 115.71,334.32 123.24,351.58 105.28,359.49"/><polygon points="121.4,332.1 137.34,326.27 144.62,342.15 128.8,349.07"/><polygon points="142.87,324.05 157,318.96 164,333.61 150.02,339.67"/><polygon points="162.36,316.74 174.94,312.29 181.67,325.82 169.24,331.15"/><polygon points="180.14,310.08 191.37,306.18 197.83,318.69 186.75,323.39"/><polygon points="196.42,303.98 206.49,300.56 212.66,312.15 202.76,316.3"/><polygon points="107.68,365.22 125.74,357.26 133.43,375.32 115.5,384.59"/><polygon points="131.32,354.92 147.22,347.96 154.64,364.56 138.89,372.69"/><polygon points="152.64,345.63 166.72,339.52 173.86,354.82 159.94,361.97"/><polygon points="171.97,337.21 184.48,331.83 191.33,345.96 179,352.27"/><polygon points="189.58,329.54 200.74,324.8 207.3,337.87 196.32,343.44"/><polygon points="205.69,322.52 215.67,318.34 221.95,330.44 212.14,335.38"/></g></g>
<line x1="150.6" y1="376" x2="150.6" y2="394.5" stroke="#555" stroke-width="1.2"/>
<rect x="142" y="394.2" width="13.8" height="48.8" fill="#d8d8d6" stroke="#9a9a98" stroke-width="0.8"/>
<path d="M148.6,443 C148.5,470 150,483 158.3,489.6" fill="none" stroke="#333" stroke-width="0.9"/>
<rect x="158.3" y="467.3" width="43.7" height="50.4" fill="#999999" stroke="#7f7f7f" stroke-width="0.9"/>
<circle cx="167.2" cy="479" r="2.5" fill="none" stroke="#222" stroke-width="0.9"/>
<circle cx="174.4" cy="479" r="2.5" fill="none" stroke="#222" stroke-width="0.9"/>
<rect x="183.4" y="498.6" width="4.2" height="7.9" fill="#a2a2a2" stroke="#1a1a1a" stroke-width="0.9"/>
<rect x="183.4" y="504.1" width="4.2" height="1.1" fill="#1a1a1a"/>
<rect x="189.4" y="498.6" width="4.2" height="7.9" fill="#a2a2a2" stroke="#1a1a1a" stroke-width="0.9"/>
<rect x="189.4" y="504.1" width="4.2" height="1.1" fill="#1a1a1a"/>
<path d="M191,517.7 C196,535 212,544 234,544 L256.5,543.3" fill="none" stroke="#333" stroke-width="0.9"/>
<clipPath id="tclip"><rect x="420.5" y="423" width="162" height="162"/></clipPath>
<g clip-path="url(#tclip)" fill="none" stroke="#5b8ae6" stroke-width="1.7">
<path d="M411,429.5C418.35,429.5 423.65,435.3 431,435.3C438.35,435.3 443.65,429.5 451,429.5C458.35,429.5 463.65,435.3 471,435.3C478.35,435.3 483.65,429.5 491,429.5C498.35,429.5 503.65,435.3 511,435.3C518.35,435.3 523.65,429.5 531,429.5C538.35,429.5 543.65,435.3 551,435.3C558.35,435.3 563.65,429.5 571,429.5C578.35,429.5 583.65,435.3 591,435.3"/>
<path d="M411,441.47C418.35,441.47 423.65,447.27 431,447.27C438.35,447.27 443.65,441.47 451,441.47C458.35,441.47 463.65,447.27 471,447.27C478.35,447.27 483.65,441.47 491,441.47C498.35,441.47 503.65,447.27 511,447.27C518.35,447.27 523.65,441.47 531,441.47C538.35,441.47 543.65,447.27 551,447.27C558.35,447.27 563.65,441.47 571,441.47C578.35,441.47 583.65,447.27 591,447.27"/>
<path d="M411,453.44C418.35,453.44 423.65,459.24 431,459.24C438.35,459.24 443.65,453.44 451,453.44C458.35,453.44 463.65,459.24 471,459.24C478.35,459.24 483.65,453.44 491,453.44C498.35,453.44 503.65,459.24 511,459.24C518.35,459.24 523.65,453.44 531,453.44C538.35,453.44 543.65,459.24 551,459.24C558.35,459.24 563.65,453.44 571,453.44C578.35,453.44 583.65,459.24 591,459.24"/>
<path d="M411,465.41C418.35,465.41 423.65,471.21 431,471.21C438.35,471.21 443.65,465.41 451,465.41C458.35,465.41 463.65,471.21 471,471.21C478.35,471.21 483.65,465.41 491,465.41C498.35,465.41 503.65,471.21 511,471.21C518.35,471.21 523.65,465.41 531,465.41C538.35,465.41 543.65,471.21 551,471.21C558.35,471.21 563.65,465.41 571,465.41C578.35,465.41 583.65,471.21 591,471.21"/>
<path d="M411,477.38C418.35,477.38 423.65,483.18 431,483.18C438.35,483.18 443.65,477.38 451,477.38C458.35,477.38 463.65,483.18 471,483.18C478.35,483.18 483.65,477.38 491,477.38C498.35,477.38 503.65,483.18 511,483.18C518.35,483.18 523.65,477.38 531,477.38C538.35,477.38 543.65,483.18 551,483.18C558.35,483.18 563.65,477.38 571,477.38C578.35,477.38 583.65,483.18 591,483.18"/>
<path d="M411,489.35C418.35,489.35 423.65,495.15 431,495.15C438.35,495.15 443.65,489.35 451,489.35C458.35,489.35 463.65,495.15 471,495.15C478.35,495.15 483.65,489.35 491,489.35C498.35,489.35 503.65,495.15 511,495.15C518.35,495.15 523.65,489.35 531,489.35C538.35,489.35 543.65,495.15 551,495.15C558.35,495.15 563.65,489.35 571,489.35C578.35,489.35 583.65,495.15 591,495.15"/>
<path d="M411,501.32C418.35,501.32 423.65,507.12 431,507.12C438.35,507.12 443.65,501.32 451,501.32C458.35,501.32 463.65,507.12 471,507.12C478.35,507.12 483.65,501.32 491,501.32C498.35,501.32 503.65,507.12 511,507.12C518.35,507.12 523.65,501.32 531,501.32C538.35,501.32 543.65,507.12 551,507.12C558.35,507.12 563.65,501.32 571,501.32C578.35,501.32 583.65,507.12 591,507.12"/>
<path d="M411,513.29C418.35,513.29 423.65,519.09 431,519.09C438.35,519.09 443.65,513.29 451,513.29C458.35,513.29 463.65,519.09 471,519.09C478.35,519.09 483.65,513.29 491,513.29C498.35,513.29 503.65,519.09 511,519.09C518.35,519.09 523.65,513.29 531,513.29C538.35,513.29 543.65,519.09 551,519.09C558.35,519.09 563.65,513.29 571,513.29C578.35,513.29 583.65,519.09 591,519.09"/>
<path d="M411,525.26C418.35,525.26 423.65,531.06 431,531.06C438.35,531.06 443.65,525.26 451,525.26C458.35,525.26 463.65,531.06 471,531.06C478.35,531.06 483.65,525.26 491,525.26C498.35,525.26 503.65,531.06 511,531.06C518.35,531.06 523.65,525.26 531,525.26C538.35,525.26 543.65,531.06 551,531.06C558.35,531.06 563.65,525.26 571,525.26C578.35,525.26 583.65,531.06 591,531.06"/>
<path d="M411,537.23C418.35,537.23 423.65,543.03 431,543.03C438.35,543.03 443.65,537.23 451,537.23C458.35,537.23 463.65,543.03 471,543.03C478.35,543.03 483.65,537.23 491,537.23C498.35,537.23 503.65,543.03 511,543.03C518.35,543.03 523.65,537.23 531,537.23C538.35,537.23 543.65,543.03 551,543.03C558.35,543.03 563.65,537.23 571,537.23C578.35,537.23 583.65,543.03 591,543.03"/>
<path d="M411,549.2C418.35,549.2 423.65,555 431,555C438.35,555 443.65,549.2 451,549.2C458.35,549.2 463.65,555 471,555C478.35,555 483.65,549.2 491,549.2C498.35,549.2 503.65,555 511,555C518.35,555 523.65,549.2 531,549.2C538.35,549.2 543.65,555 551,555C558.35,555 563.65,549.2 571,549.2C578.35,549.2 583.65,555 591,555"/>
<path d="M411,561.17C418.35,561.17 423.65,566.97 431,566.97C438.35,566.97 443.65,561.17 451,561.17C458.35,561.17 463.65,566.97 471,566.97C478.35,566.97 483.65,561.17 491,561.17C498.35,561.17 503.65,566.97 511,566.97C518.35,566.97 523.65,561.17 531,561.17C538.35,561.17 543.65,566.97 551,566.97C558.35,566.97 563.65,561.17 571,561.17C578.35,561.17 583.65,566.97 591,566.97"/>
<path d="M411,573.14C418.35,573.14 423.65,578.94 431,578.94C438.35,578.94 443.65,573.14 451,573.14C458.35,573.14 463.65,578.94 471,578.94C478.35,578.94 483.65,573.14 491,573.14C498.35,573.14 503.65,578.94 511,578.94C518.35,578.94 523.65,573.14 531,573.14C538.35,573.14 543.65,578.94 551,578.94C558.35,578.94 563.65,573.14 571,573.14C578.35,573.14 583.65,578.94 591,578.94"/>
</g>
<path d="M447.7,398 V392 Q447.7,387.3 452.4,387.3 H550 Q554.7,387.3 554.7,392 V398 L580.4,418.4 Q584,421.4 584,426 V582.2 Q584,587 579.2,587 H424 Q419.2,587 419.2,582.2 V426 Q419.2,421.4 422.8,418.4 Z" fill="none" stroke="#0f3b39" stroke-width="3.7" stroke-linejoin="round"/>
<path d="M403.5,432.8 H421 V440.2 H403.5" fill="#9a9a9a" stroke="#5f5f5f" stroke-width="0.9"/>
<path d="M648.86,622.41 L647.76,615.19 L645.84,608.91 L643.2,603.36 L639.95,598.36 L636.18,593.66 L631.99,589.07 L627.46,584.34 L622.66,579.27 L617.67,573.63 L617.67,573.63 L622.41,579.49 L626.99,584.77 L631.31,589.68 L635.27,594.42 L638.76,599.19 L641.7,604.18 L644,609.6 L645.59,615.66 L646.4,622.59Z" fill="#66bd55"/>
<path d="M652.42,622.27 L651.03,617.03 L649.38,612.03 L647.54,607.3 L645.58,602.87 L643.58,598.77 L641.6,595.03 L639.72,591.69 L638.01,588.77 L636.52,586.32 L636.52,586.32 L637.73,588.92 L639.21,591.96 L640.86,595.41 L642.61,599.23 L644.38,603.39 L646.1,607.86 L647.7,612.6 L649.1,617.57 L650.23,622.73Z" fill="#12702f"/>
<path d="M658.03,622.39 L656.26,612.56 L653.25,603.97 L649.38,596.48 L644.98,590 L640.42,584.39 L636.04,579.53 L632.17,575.29 L629.15,571.55 L627.29,568.17 L627.29,568.17 L628.89,571.72 L631.72,575.67 L635.4,580.09 L639.58,585.1 L643.9,590.8 L648.01,597.29 L651.57,604.68 L654.27,613.08 L655.75,622.61Z" fill="#66bd55"/>
<path d="M662.41,622.37 L660.79,610.56 L658.39,600.8 L655.42,592.72 L652.13,585.93 L648.75,580.03 L645.48,574.62 L642.53,569.28 L640.09,563.58 L638.36,557.09 L638.36,557.09 L639.66,563.71 L641.76,569.63 L644.41,575.21 L647.37,580.81 L650.42,586.8 L653.32,593.58 L655.88,601.53 L657.89,611.08 L659.15,622.63Z" fill="#41ad4b"/>
<path d="M666.37,622.25 L665.27,617.75 L664.1,613.58 L662.84,609.71 L661.48,606.11 L660.03,602.74 L658.45,599.58 L656.76,596.6 L654.93,593.76 L652.95,591.03 L652.95,591.03 L654.64,593.94 L656.19,596.91 L657.62,599.99 L658.92,603.21 L660.1,606.61 L661.18,610.23 L662.17,614.1 L663.08,618.26 L663.92,622.75Z" fill="#1a8438"/>
<path d="M668.66,622.55 L668.81,618.42 L669.24,614.29 L669.93,610.19 L670.83,606.16 L671.91,602.23 L673.15,598.44 L674.51,594.82 L675.96,591.39 L677.45,588.19 L677.45,588.19 L675.63,591.23 L673.89,594.54 L672.24,598.08 L670.7,601.82 L669.33,605.73 L668.13,609.78 L667.16,613.93 L666.44,618.17 L666.01,622.45Z" fill="#167a34"/>
<path d="M679.9,622.58 L680.32,615.4 L681.25,608.72 L682.56,602.49 L684.12,596.69 L685.8,591.29 L687.45,586.27 L688.93,581.61 L690.11,577.28 L690.8,573.28 L690.8,573.28 L689.63,577.14 L688.06,581.3 L686.2,585.8 L684.18,590.7 L682.12,596.02 L680.17,601.82 L678.46,608.13 L677.13,614.99 L676.33,622.42Z" fill="#66bd55"/>
<path d="M682.94,622.14 L680.57,613.84 L677.61,605.81 L674.22,598.36 L670.53,591.8 L666.69,586.46 L662.83,582.66 L659.08,580.77 L655.7,581.2 L653.07,584.14 L653.07,584.14 L655.9,581.6 L658.88,581.58 L662.08,583.6 L665.47,587.43 L668.9,592.79 L672.2,599.34 L675.21,606.75 L677.79,614.71 L679.78,622.86Z" fill="#23953e"/>
<path d="M687.02,622.6 L687.51,614.5 L688.38,606.43 L689.53,598.72 L690.85,591.71 L692.24,585.74 L693.58,581.13 L694.75,578.25 L695.45,577.35 L696.35,578.62 L696.35,578.62 L695.62,576.9 L694.01,577.73 L692.37,580.65 L690.62,585.25 L688.84,591.23 L687.14,598.25 L685.61,606 L684.37,614.16 L683.51,622.4Z" fill="#23953e"/>
<path d="M695.98,622.62 L696.53,614.42 L697.22,606.53 L698.05,598.95 L698.99,591.66 L700.03,584.68 L701.14,577.98 L702.3,571.56 L703.5,565.43 L704.7,559.57 L704.7,559.57 L703.09,565.33 L701.53,571.39 L700.02,577.75 L698.58,584.41 L697.21,591.37 L695.95,598.65 L694.8,606.24 L693.78,614.15 L692.92,622.38Z" fill="#1a8438"/>
<path d="M698.79,622.53 L699.1,611.3 L699.91,599.7 L701.12,588.27 L702.59,577.53 L704.19,568.02 L705.8,560.27 L707.27,554.82 L708.43,552.23 L709.35,552.79 L709.35,552.79 L708.19,551.88 L706.52,554.54 L704.68,559.98 L702.73,567.71 L700.79,577.22 L698.99,587.97 L697.46,599.45 L696.32,611.12 L695.69,622.47Z" fill="#23953e"/>
<path d="M700.85,622.33 L699.21,614.95 L696.45,607.31 L692.84,599.75 L688.65,592.65 L684.18,586.37 L679.68,581.31 L675.43,577.84 L671.71,576.38 L668.96,577.36 L668.96,577.36 L671.67,576.76 L675.04,578.43 L678.95,582.02 L683.13,587.18 L687.28,593.51 L691.14,600.63 L694.42,608.14 L696.84,615.63 L698.13,622.67Z" fill="#1a8438"/>
<path d="M703.61,622.69 L704.62,615.05 L706.31,606.98 L708.55,598.9 L711.19,591.26 L714.1,584.47 L717.14,578.96 L720.14,575.15 L722.98,573.4 L725.76,574.06 L725.76,574.06 L722.92,572.94 L719.58,574.5 L716.12,578.25 L712.68,583.73 L709.38,590.5 L706.36,598.16 L703.74,606.29 L701.68,614.47 L700.3,622.31Z" fill="#1a8438"/>
<path d="M706.11,622.51 L706.08,613.44 L706.2,604.6 L706.4,596.31 L706.61,588.89 L706.76,582.67 L706.78,577.95 L706.6,575.04 L705.74,574.24 L705.35,576.14 L705.35,576.14 L706.11,574.5 L705.75,575.1 L705.55,577.91 L705.17,582.59 L704.66,588.79 L704.11,596.2 L703.57,604.5 L703.11,613.37 L702.81,622.49Z" fill="#23953e"/>
<path d="M707.11,622.51 L707.2,611.71 L707.32,602.34 L707.46,594.12 L707.62,586.76 L707.77,579.99 L707.92,573.53 L708.05,567.08 L708.15,560.38 L708.2,553.13 L708.2,553.13 L707.88,560.37 L707.54,567.06 L707.18,573.5 L706.81,579.95 L706.44,586.72 L706.07,594.07 L705.73,602.3 L705.4,611.67 L705.11,622.49Z" fill="#12702f"/>
<path d="M713.06,622.4 L711.87,612.54 L710.14,603.96 L708.01,596.4 L705.61,589.56 L703.08,583.18 L700.56,576.95 L698.18,570.59 L696.05,563.79 L694.3,556.26 L694.3,556.26 L695.67,563.88 L697.49,570.81 L699.59,577.31 L701.83,583.66 L704.06,590.11 L706.16,596.95 L707.98,604.46 L709.39,612.91 L710.28,622.6Z" fill="#1a8438"/>
<path d="M716.61,622.4 L715.37,613.85 L713.3,606.6 L710.57,600.43 L707.39,595.12 L703.95,590.43 L700.43,586.11 L697,581.92 L693.82,577.6 L691.03,572.92 L691.03,572.92 L693.47,577.82 L696.38,582.37 L699.56,586.79 L702.8,591.28 L705.92,596.06 L708.73,601.36 L711.06,607.38 L712.76,614.38 L713.65,622.6Z" fill="#2c9f44"/>
<path d="M719.49,622.5 L719.33,613.2 L719.15,603.56 L718.97,594.08 L718.79,585.21 L718.62,577.43 L718.45,571.21 L718.3,567.03 L718.14,565.47 L718.04,566.67 L718.04,566.67 L717.76,565.24 L717.48,567.02 L717.27,571.2 L717.08,577.42 L716.91,585.21 L716.76,594.08 L716.61,603.57 L716.46,613.2 L716.3,622.5Z" fill="#1f8d3b"/>
<path d="M721.19,622.72 L722.43,615.46 L724.16,608.35 L726.34,601.42 L728.87,594.7 L731.69,588.23 L734.73,582.02 L737.92,576.11 L741.17,570.53 L744.41,565.28 L744.41,565.28 L740.84,570.31 L737.27,575.73 L733.78,581.5 L730.43,587.6 L727.29,594.02 L724.44,600.71 L721.94,607.67 L719.87,614.86 L718.31,622.28Z" fill="#23953e"/>
<path d="M723.07,622.44 L722.19,611.63 L721.11,601.5 L719.89,591.94 L718.6,582.82 L717.27,574.03 L715.96,565.44 L714.73,556.93 L713.63,548.38 L712.69,539.67 L712.69,539.67 L713.34,548.41 L714.19,556.99 L715.18,565.54 L716.26,574.17 L717.37,582.99 L718.44,592.12 L719.44,601.68 L720.3,611.79 L720.97,622.56Z" fill="#2c9f44"/>
<path d="M725.46,622.53 L725.86,614.44 L726.84,607.14 L728.3,600.53 L730.11,594.51 L732.15,588.95 L734.31,583.77 L736.45,578.86 L738.45,574.12 L740.16,569.46 L740.16,569.46 L738.13,573.98 L735.86,578.58 L733.46,583.37 L731.03,588.47 L728.71,593.99 L726.61,600.05 L724.87,606.74 L723.6,614.18 L722.93,622.47Z" fill="#167a34"/>
<path d="M728.82,622.2 L727,614.89 L724.64,608.71 L721.92,603.46 L719.03,598.95 L716.15,594.97 L713.43,591.31 L711.04,587.72 L709.11,584 L707.78,579.88 L707.78,579.88 L708.64,584.16 L710.22,588.16 L712.32,592.03 L714.73,595.95 L717.26,600.09 L719.75,604.65 L722.02,609.81 L723.92,615.79 L725.3,622.8Z" fill="#66bd55"/>
<path d="M730.27,622.3 L728.25,608.96 L725.81,597.36 L723.1,587.29 L720.24,578.53 L717.39,570.87 L714.67,564.07 L712.21,557.92 L710.15,552.19 L708.58,546.62 L708.58,546.62 L709.68,552.32 L711.37,558.22 L713.46,564.52 L715.82,571.44 L718.3,579.17 L720.78,587.94 L723.11,597.97 L725.17,609.48 L726.82,622.7Z" fill="#167a34"/>
<path d="M733.89,622.42 L732.92,611.1 L731.53,601.29 L729.81,592.84 L727.88,585.61 L725.83,579.45 L723.76,574.2 L721.79,569.72 L720,565.86 L718.47,562.45 L718.47,562.45 L719.6,566.02 L721.04,570.03 L722.68,574.62 L724.4,579.92 L726.11,586.1 L727.7,593.3 L729.07,601.68 L730.13,611.39 L730.78,622.58Z" fill="#167a34"/>
<path d="M736.06,622.5 L735.98,609.69 L735.97,598.33 L735.99,588.19 L736.05,579 L736.11,570.52 L736.18,562.5 L736.22,554.68 L736.22,546.81 L736.16,538.65 L736.16,538.65 L735.83,546.8 L735.49,554.66 L735.13,562.47 L734.75,570.48 L734.38,578.96 L734.03,588.15 L733.71,598.3 L733.44,609.66 L733.23,622.5Z" fill="#167a34"/>
<path d="M737.8,622.35 L736.21,612.92 L734.19,603.56 L731.81,594.44 L729.14,585.68 L726.27,577.43 L723.26,569.83 L720.2,563.03 L717.15,557.16 L714.19,552.4 L714.19,552.4 L716.88,557.31 L719.68,563.27 L722.51,570.14 L725.27,577.79 L727.91,586.07 L730.33,594.84 L732.48,603.96 L734.27,613.27 L735.62,622.65Z" fill="#1f8d3b"/>
<path d="M741.45,622.49 L740.84,611.64 L739.55,602.01 L737.75,593.49 L735.63,585.99 L733.37,579.4 L731.15,573.64 L729.13,568.58 L727.5,564.12 L726.38,560.12 L726.38,560.12 L727.02,564.24 L728.27,568.87 L729.91,574.08 L731.76,579.95 L733.64,586.56 L735.36,594.03 L736.77,602.44 L737.68,611.9 L737.93,622.51Z" fill="#23953e"/>
<path d="M742.57,622.51 L742.74,608.6 L743.27,596 L744.07,584.63 L745.05,574.38 L746.14,565.16 L747.26,556.87 L748.31,549.43 L749.21,542.75 L749.86,536.72 L749.86,536.72 L748.86,542.69 L747.66,549.33 L746.32,556.73 L744.93,564.98 L743.57,574.2 L742.32,584.46 L741.25,595.87 L740.47,608.51 L740.03,622.49Z" fill="#1f8d3b"/>
<path d="M749.73,622.49 L749.37,613.71 L748.81,603.92 L748.1,593.76 L747.29,583.87 L746.44,574.89 L745.62,567.46 L744.87,562.22 L744.24,559.77 L743.82,560.95 L743.82,560.95 L743.81,559.98 L744,562.34 L744.35,567.58 L744.8,575.02 L745.28,584.01 L745.74,593.9 L746.1,604.05 L746.31,613.8 L746.32,622.51Z" fill="#167a34"/>
<path d="M751.66,622.31 L750.72,615.71 L749.5,608.12 L748.02,600.09 L746.3,592.2 L744.33,585 L742.12,579.07 L739.66,574.97 L736.91,573.35 L734.29,574.9 L734.29,574.9 L736.88,573.83 L738.96,575.54 L740.92,579.58 L742.71,585.47 L744.28,592.64 L745.63,600.52 L746.74,608.53 L747.59,616.11 L748.18,622.69Z" fill="#23953e"/>
<path d="M753.33,622.45 L752.13,608.59 L750.16,596.58 L747.53,586.2 L744.39,577.23 L740.88,569.46 L737.13,562.68 L733.26,556.65 L729.42,551.15 L725.72,545.96 L725.72,545.96 L729.16,551.33 L732.76,556.97 L736.38,563.11 L739.88,569.95 L743.12,577.73 L745.98,586.65 L748.34,596.94 L750.06,608.84 L751.01,622.55Z" fill="#12702f"/>
<path d="M755.28,622.63 L756.44,614.17 L758.63,606.96 L761.62,600.7 L765.18,595.15 L769.04,590.04 L772.94,585.14 L776.6,580.21 L779.72,575 L782.02,569.28 L782.02,569.28 L779.34,574.79 L775.94,579.73 L772.04,584.4 L767.88,589.07 L763.7,594.03 L759.75,599.57 L756.32,605.97 L753.69,613.49 L752.14,622.37Z" fill="#167a34"/>
<path d="M757.65,622.58 L758.2,612.66 L758.92,602.84 L759.73,593.14 L760.59,583.57 L761.45,574.13 L762.24,564.84 L762.91,555.7 L763.41,546.73 L763.66,537.94 L763.66,537.94 L763.04,546.71 L762.23,555.64 L761.25,564.74 L760.17,574 L759.04,583.4 L757.9,592.95 L756.81,602.65 L755.82,612.47 L754.99,622.42Z" fill="#12702f"/>
<path d="M760.54,622.49 L760.1,609.83 L759.18,597.46 L757.88,585.86 L756.31,575.47 L754.57,566.76 L752.75,560.18 L750.94,556.17 L749.11,555.27 L747.9,557.97 L747.9,557.97 L749.27,555.51 L750.49,556.47 L752.01,560.42 L753.58,566.98 L755.1,575.67 L756.44,586.04 L757.52,597.61 L758.22,609.92 L758.46,622.51Z" fill="#167a34"/>
<path d="M762.76,622.4 L761.72,617 L759.92,611.99 L757.59,607.28 L754.95,602.76 L752.19,598.35 L749.52,593.94 L747.13,589.45 L745.21,584.78 L743.96,579.84 L743.96,579.84 L744.91,584.87 L746.59,589.69 L748.77,594.35 L751.24,598.91 L753.79,603.44 L756.19,608.01 L758.24,612.69 L759.73,617.53 L760.48,622.6Z" fill="#1f8d3b"/>
<path d="M765.14,622.42 L764.21,613.42 L762.95,604.52 L761.43,596.11 L759.7,588.58 L757.82,582.3 L755.84,577.68 L753.77,575.08 L751.68,575.1 L750.06,577.97 L750.06,577.97 L751.88,575.36 L753.43,575.58 L755.07,578.08 L756.75,582.66 L758.36,588.9 L759.83,596.42 L761.1,604.8 L762.12,613.65 L762.8,622.58Z" fill="#12702f"/>
<path d="M767.91,622.42 L767,610.21 L765.85,599.82 L764.52,590.98 L763.07,583.41 L761.58,576.85 L760.1,571.04 L758.7,565.68 L757.44,560.51 L756.35,555.23 L756.35,555.23 L756.99,560.59 L757.87,565.87 L758.9,571.31 L760.01,577.19 L761.15,583.77 L762.24,591.32 L763.21,600.12 L764.02,610.45 L764.59,622.58Z" fill="#167a34"/>
<path d="M769.27,622.58 L769.93,616.83 L771.22,611.1 L772.99,605.47 L775.05,600.01 L777.23,594.82 L779.36,589.96 L781.26,585.5 L782.75,581.53 L783.64,578.13 L783.64,578.13 L782.48,581.43 L780.76,585.28 L778.64,589.62 L776.29,594.39 L773.89,599.52 L771.6,604.95 L769.59,610.61 L768.05,616.46 L767.15,622.42Z" fill="#1a8438"/>
<path d="M774.22,622.55 L774.49,610.42 L774.92,599.43 L775.47,589.39 L776.13,580.16 L776.87,571.55 L777.69,563.4 L778.55,555.55 L779.44,547.82 L780.31,540.06 L780.31,540.06 L778.96,547.75 L777.65,555.42 L776.39,563.23 L775.18,571.35 L774.06,579.95 L773.03,589.19 L772.11,599.24 L771.32,610.27 L770.69,622.45Z" fill="#23953e"/>
<path d="M777.91,622.36 L776.42,614.19 L774.12,606.39 L771.14,599.23 L767.59,592.97 L763.6,587.91 L759.28,584.32 L754.77,582.5 L750.27,582.77 L745.98,585.32 L745.98,585.32 L750.37,583.08 L754.66,583.1 L758.8,585.06 L762.76,588.68 L766.42,593.73 L769.65,599.93 L772.33,607 L774.34,614.67 L775.56,622.64Z" fill="#1a8438"/>
<path d="M785.42,622.52 L785.88,614.25 L787.24,607.44 L789.25,601.79 L791.7,597.05 L794.36,592.94 L797,589.23 L799.36,585.66 L801.17,582.01 L802.15,578.05 L802.15,578.05 L800.82,581.86 L798.76,585.27 L796.18,588.6 L793.29,592.14 L790.32,596.17 L787.51,600.96 L785.13,606.78 L783.42,613.87 L782.65,622.48Z" fill="#41ad4b"/>
<path d="M791.52,622.43 L790.39,609.89 L789.13,598.74 L787.73,588.8 L786.22,579.93 L784.61,571.96 L782.89,564.73 L781.09,558.09 L779.21,551.88 L777.25,545.93 L777.25,545.93 L778.95,551.96 L780.59,558.23 L782.17,564.91 L783.66,572.16 L785.05,580.13 L786.35,589.01 L787.53,598.93 L788.58,610.06 L789.51,622.57Z" fill="#1f8d3b"/>
<path d="M796.72,622.58 L797.25,612.22 L797.93,602.7 L798.71,593.92 L799.59,585.73 L800.52,578.03 L801.48,570.67 L802.43,563.55 L803.36,556.54 L804.2,549.52 L804.2,549.52 L802.97,556.48 L801.71,563.44 L800.43,570.51 L799.17,577.83 L797.93,585.51 L796.76,593.69 L795.67,602.48 L794.71,612.02 L793.89,622.42Z" fill="#167a34"/>
<path d="M800.88,622.65 L802.56,608.42 L804.58,596.12 L806.88,585.51 L809.39,576.35 L812.05,568.38 L814.8,561.36 L817.57,555.04 L820.3,549.19 L822.89,543.57 L822.89,543.57 L819.95,549.02 L816.92,554.72 L813.84,560.93 L810.78,567.88 L807.81,575.83 L804.98,585.01 L802.37,595.66 L800.04,608.03 L798.07,622.35Z" fill="#41ad4b"/>
<path d="M804.35,622.44 L803.78,612.75 L802.99,601.87 L802.01,590.55 L800.88,579.56 L799.62,569.65 L798.25,561.59 L796.8,556.12 L795.08,553.96 L793.8,556.27 L793.8,556.27 L795.11,554.43 L795.96,556.4 L796.99,561.81 L797.97,569.86 L798.85,579.75 L799.62,590.74 L800.24,602.04 L800.67,612.91 L800.9,622.56Z" fill="#1f8d3b"/>
<path d="M807.5,622.52 L807.86,610.62 L808.95,598.4 L810.6,586.46 L812.59,575.39 L814.74,565.8 L816.85,558.27 L818.7,553.42 L819.91,551.81 L820.98,553.83 L820.98,553.83 L820.04,551.39 L818,553.01 L815.74,557.88 L813.27,565.4 L810.77,574.99 L808.43,586.08 L806.45,598.07 L805.02,610.4 L804.34,622.48Z" fill="#1a8438"/>
<path d="M809.37,622.45 L808.23,606.41 L806.61,591.52 L804.66,578.03 L802.51,566.23 L800.29,556.36 L798.16,548.69 L796.24,543.48 L794.64,540.98 L793.62,541.6 L793.62,541.6 L794.46,541.22 L795.72,543.7 L797.38,548.92 L799.27,556.6 L801.24,566.47 L803.16,578.27 L804.88,591.72 L806.27,606.57 L807.18,622.55Z" fill="#1f8d3b"/>
<path d="M811.67,622.54 L811.81,614.13 L812.07,606.75 L812.41,600.26 L812.79,594.5 L813.19,589.34 L813.55,584.64 L813.85,580.25 L814.04,576.04 L814.05,571.87 L814.05,571.87 L813.58,576 L812.99,580.16 L812.32,584.5 L811.59,589.16 L810.84,594.29 L810.1,600.05 L809.41,606.57 L808.81,613.99 L808.34,622.46Z" fill="#66bd55"/>
<path d="M814.08,622.63 L815.73,609.65 L817.91,597.54 L820.5,586.56 L823.38,576.94 L826.45,568.94 L829.57,562.79 L832.62,558.73 L835.49,556.97 L838.25,557.7 L838.25,557.7 L835.46,556.65 L832.22,558.29 L828.85,562.32 L825.44,568.47 L822.1,576.49 L818.96,586.13 L816.11,597.15 L813.68,609.31 L811.79,622.37Z" fill="#167a34"/>
<path d="M816.33,622.27 L814.26,610.46 L811.8,600.88 L808.98,593.1 L805.86,586.7 L802.49,581.25 L798.92,576.32 L795.19,571.44 L791.32,566.15 L787.32,560 L787.32,560 L790.92,566.41 L794.46,571.96 L797.86,577.07 L801.08,582.16 L804.04,587.65 L806.74,594 L809.13,601.66 L811.2,611.08 L812.88,622.73Z" fill="#66bd55"/>
<path d="M819.34,622.38 L818.09,614.93 L815.83,607.18 L812.78,599.54 L809.15,592.44 L805.17,586.32 L801.04,581.64 L796.98,578.85 L793.24,578.51 L790.33,581 L790.33,581 L793.36,578.94 L796.64,579.61 L800.22,582.49 L803.92,587.22 L807.51,593.34 L810.75,600.42 L813.42,607.98 L815.29,615.54 L816.16,622.62Z" fill="#12702f"/>
<path d="M824.05,622.4 L822.79,613.19 L820.9,605.41 L818.44,598.85 L815.5,593.3 L812.16,588.53 L808.5,584.33 L804.6,580.45 L800.52,576.66 L796.3,572.74 L796.3,572.74 L800.28,576.91 L804.15,580.9 L807.82,584.94 L811.22,589.25 L814.25,594.04 L816.87,599.53 L819.01,605.96 L820.61,613.58 L821.59,622.6Z" fill="#1f8d3b"/>
<path d="M826.83,622.38 L825.38,611.12 L823.5,599.66 L821.34,588.51 L819.04,578.16 L816.75,569.13 L814.61,561.92 L812.77,557.03 L811.29,554.93 L810.59,556.37 L810.59,556.37 L811.19,555.25 L812.21,557.27 L813.77,562.18 L815.64,569.42 L817.67,578.47 L819.71,588.83 L821.63,599.98 L823.26,611.42 L824.46,622.62Z" fill="#23953e"/>
<path d="M828.82,622.47 L828.5,615.67 L828.12,609.15 L827.69,602.96 L827.2,597.17 L826.66,591.83 L826.08,587 L825.46,582.74 L824.8,579.1 L824.09,576.17 L824.09,576.17 L824.45,579.16 L824.8,582.82 L825.13,587.09 L825.43,591.93 L825.69,597.27 L825.9,603.06 L826.07,609.24 L826.19,615.75 L826.25,622.53Z" fill="#2c9f44"/>
<path d="M831.47,622.33 L829.54,613.45 L826.66,604.69 L823.05,596.36 L818.91,588.77 L814.43,582.24 L809.82,577.1 L805.27,573.66 L801.01,572.29 L797.36,573.32 L797.36,573.32 L800.99,572.62 L804.97,574.19 L809.21,577.72 L813.53,582.93 L817.72,589.48 L821.58,597.06 L824.9,605.34 L827.49,613.99 L829.15,622.67Z" fill="#66bd55"/>
<path d="M834.17,622.29 L832.76,615.24 L830.86,608.91 L828.62,603.23 L826.2,598.14 L823.74,593.53 L821.4,589.34 L819.31,585.49 L817.61,581.87 L816.43,578.38 L816.43,578.38 L817.19,582.01 L818.55,585.83 L820.32,589.89 L822.35,594.24 L824.47,598.95 L826.54,604.08 L828.4,609.71 L829.92,615.89 L830.95,622.71Z" fill="#1a8438"/>
<path d="M839.56,622.48 L839.16,607.19 L838.7,594.21 L838.21,583.21 L837.69,573.85 L837.17,565.78 L836.65,558.66 L836.17,552.16 L835.73,545.92 L835.33,539.59 L835.33,539.59 L835.39,545.93 L835.54,552.19 L835.75,558.71 L835.99,565.84 L836.26,573.91 L836.52,583.27 L836.76,594.27 L836.97,607.23 L837.13,622.52Z" fill="#1f8d3b"/>
<path d="M848.55,622.48 L848.06,612.02 L847.21,602.19 L846.05,593.03 L844.65,584.61 L843.09,576.98 L841.41,570.19 L839.7,564.31 L838.01,559.39 L836.38,555.49 L836.38,555.49 L837.58,559.53 L838.9,564.54 L840.25,570.48 L841.56,577.29 L842.77,584.92 L843.82,593.32 L844.64,602.42 L845.16,612.18 L845.31,622.52Z" fill="#1a8438"/>
<path d="M621.8,547.4 C655,547 695,554 724,571 C746,584 763,602 775,619.5 L764,619.8 C752,604 737,591 718,581 C692,566 656,556.5 621.8,554.9 Z" fill="#6193f0"/>
<path d="M630,546.3 C664,544.5 708,550 738,570 C757,583 770,600 779,615" fill="none" stroke="#6193f0" stroke-width="1.5"/>
<g fill="none" stroke="#ffffff" stroke-width="0.9" opacity="0.95">
<path d="M655,550 C685,551.5 712,559 733,573 C748,584 758,597 766,610"/>
<path d="M672,554.5 C700,559 719,568 736,580 C748,591 756,601 762,612"/>
</g>
<path d="M624,556.5 L628,558.3 M631,559 L635,560.6" stroke="#6193f0" stroke-width="1.1" fill="none"/>
<path d="M644.75,622.37 L643.57,612.19 L642.02,603.58 L640.22,596.3 L638.28,590.13 L636.32,584.82 L634.46,580.13 L632.8,575.8 L631.45,571.58 L630.49,567.19 L630.49,567.19 L630.98,571.68 L631.94,576.07 L633.23,580.56 L634.72,585.37 L636.31,590.74 L637.86,596.91 L639.28,604.11 L640.44,612.6 L641.25,622.63Z" fill="#23953e"/>
<path d="M646.9,622.48 L646.21,615.91 L644.65,609.99 L642.45,604.59 L639.83,599.59 L636.99,594.83 L634.13,590.18 L631.43,585.48 L629.08,580.59 L627.25,575.36 L627.25,575.36 L628.66,580.75 L630.68,585.85 L633.08,590.76 L635.65,595.61 L638.16,600.48 L640.41,605.5 L642.2,610.76 L643.34,616.39 L643.67,622.52Z" fill="#167a34"/>
<path d="M656.31,621.98 L654.31,617.25 L651.85,612.2 L649.05,607.16 L646.03,602.46 L642.92,598.45 L639.81,595.47 L636.83,593.9 L634.18,594.17 L632.27,596.5 L632.27,596.5 L634.38,594.55 L636.6,594.67 L639.07,596.37 L641.76,599.41 L644.5,603.48 L647.16,608.22 L649.61,613.29 L651.72,618.34 L653.36,623.02Z" fill="#12702f"/>
<path d="M672.5,622.4 L671.8,615.71 L670.99,607.75 L670.09,599.21 L669.14,590.77 L668.16,583.1 L667.17,576.89 L666.2,572.81 L665.04,571.52 L664.4,573.91 L664.4,573.91 L665.21,571.77 L665.65,572.98 L666.36,577.03 L667.11,583.23 L667.85,590.9 L668.57,599.36 L669.23,607.91 L669.82,615.88 L670.3,622.6Z" fill="#23953e"/>
<path d="M676.78,622.44 L675.57,611.28 L673.19,602.08 L669.91,594.53 L666.06,588.32 L661.91,583.12 L657.76,578.58 L653.87,574.35 L650.47,570.06 L647.8,565.34 L647.8,565.34 L650.05,570.32 L653.14,574.93 L656.75,579.46 L660.57,584.22 L664.31,589.52 L667.69,595.66 L670.46,602.98 L672.38,611.82 L673.18,622.56Z" fill="#2c9f44"/>
<path d="M688.57,622.41 L687.48,613.38 L685.92,605.89 L683.98,599.66 L681.76,594.39 L679.33,589.8 L676.81,585.57 L674.25,581.39 L671.74,576.95 L669.34,571.93 L669.34,571.93 L671.42,577.1 L673.67,581.71 L675.98,586.04 L678.25,590.38 L680.38,595.02 L682.31,600.24 L683.94,606.37 L685.2,613.72 L686.02,622.59Z" fill="#23953e"/>
<path d="M692.78,622.64 L693.9,612.21 L695.26,603.62 L696.87,596.56 L698.7,590.68 L700.77,585.67 L703.07,581.2 L705.61,576.95 L708.36,572.61 L711.31,567.88 L711.31,567.88 L708.04,572.39 L705,576.54 L702.17,580.65 L699.55,585.05 L697.14,590.06 L694.97,595.99 L693.04,603.15 L691.37,611.83 L689.94,622.36Z" fill="#167a34"/>
<path d="M710.4,622.55 L710.55,615.44 L710.93,608.78 L711.47,602.55 L712.13,596.76 L712.83,591.41 L713.53,586.49 L714.15,582 L714.64,577.94 L714.91,574.32 L714.91,574.32 L714.15,577.86 L713.25,581.83 L712.23,586.24 L711.14,591.11 L710.06,596.43 L709.02,602.22 L708.1,608.49 L707.36,615.23 L706.84,622.45Z" fill="#1a8438"/>
<path d="M714.5,622.46 L713.83,609.34 L712.85,596.53 L711.69,584.46 L710.48,573.57 L709.32,564.31 L708.35,557.11 L707.67,552.41 L707.26,550.82 L707.67,552.24 L707.67,552.24 L707.22,550.49 L707.05,552.47 L707.45,557.22 L708.16,564.45 L709.05,573.73 L710.01,584.62 L710.91,596.68 L711.64,609.46 L712.07,622.54Z" fill="#41ad4b"/>
<path d="M732.15,622.51 L732.08,614.83 L732.06,606.71 L732.14,598.59 L732.34,590.88 L732.72,584.02 L733.28,578.43 L734.07,574.55 L735.03,572.79 L736.53,573.34 L736.53,573.34 L734.9,572.41 L733.37,574.27 L732.21,578.23 L731.32,583.88 L730.63,590.78 L730.11,598.51 L729.73,606.66 L729.45,614.8 L729.23,622.49Z" fill="#23953e"/>
<path d="M744.85,622.76 L746.08,615.81 L747.53,609.56 L749.17,603.91 L751,598.75 L753.01,593.99 L755.19,589.52 L757.52,585.25 L760,581.08 L762.58,576.91 L762.58,576.91 L759.66,580.85 L756.87,584.85 L754.23,588.98 L751.74,593.35 L749.4,598.07 L747.24,603.22 L745.27,608.91 L743.5,615.21 L741.94,622.24Z" fill="#1f8d3b"/>
<path d="M746.51,622.48 L745.52,613.58 L743.19,605.14 L739.81,597.45 L735.66,590.78 L731.03,585.43 L726.2,581.68 L721.46,579.83 L717.14,580.21 L713.63,583.05 L713.63,583.05 L717.24,580.47 L721.37,580.34 L725.81,582.31 L730.35,586.12 L734.7,591.47 L738.58,598.09 L741.69,605.67 L743.76,613.91 L744.51,622.52Z" fill="#1f8d3b"/>
<path d="M771.39,622.54 L771.62,615.89 L772.21,608.67 L773.07,601.32 L774.16,594.28 L775.42,587.98 L776.78,582.84 L778.16,579.3 L779.45,577.76 L780.89,578.47 L780.89,578.47 L779.38,577.39 L777.57,578.93 L775.84,582.51 L774.17,587.66 L772.62,593.98 L771.24,601.04 L770.09,608.41 L769.23,615.69 L768.72,622.46Z" fill="#1a8438"/>
<path d="M775.56,622.49 L775.1,611.18 L774.16,598.67 L772.86,585.75 L771.33,573.21 L769.71,561.85 L768.12,552.46 L766.69,545.85 L765.5,542.77 L764.81,544.24 L764.81,544.24 L765.26,543.01 L766.07,546 L767.22,552.62 L768.54,562.01 L769.89,573.38 L771.16,585.92 L772.2,598.83 L772.89,611.3 L773.11,622.51Z" fill="#12702f"/>
<path d="M780.3,622.56 L780.38,617.18 L780.54,611.7 L780.74,606.23 L780.98,600.88 L781.24,595.78 L781.5,591.03 L781.75,586.74 L781.97,583.03 L782.13,580 L782.13,580 L781.54,582.98 L780.95,586.65 L780.34,590.91 L779.73,595.65 L779.14,600.74 L778.57,606.07 L778.04,611.54 L777.57,617.04 L777.17,622.44Z" fill="#1a8438"/>
<path d="M783.31,622.37 L782.36,615.42 L780.99,609.25 L779.31,603.72 L777.41,598.71 L775.39,594.08 L773.34,589.67 L771.35,585.36 L769.5,580.99 L767.86,576.41 L767.86,576.41 L769.04,581.15 L770.51,585.7 L772.14,590.18 L773.83,594.72 L775.48,599.43 L776.99,604.44 L778.27,609.89 L779.25,615.91 L779.82,622.63Z" fill="#1f8d3b"/>
<path d="M787.02,622.42 L785.8,613.2 L783.79,605.29 L781.19,598.53 L778.22,592.72 L775.08,587.69 L771.97,583.24 L769.08,579.18 L766.6,575.32 L764.7,571.44 L764.7,571.44 L766.31,575.47 L768.56,579.52 L771.23,583.74 L774.11,588.31 L776.99,593.4 L779.67,599.19 L781.96,605.85 L783.68,613.59 L784.63,622.58Z" fill="#66bd55"/>
<path d="M789.83,622.44 L788.94,611.02 L787.72,599.34 L786.3,587.91 L784.8,577.23 L783.34,567.81 L782.05,560.15 L781.05,554.76 L780.47,552.14 L780.41,552.81 L780.41,552.81 L780.18,552.2 L780.5,554.85 L781.26,560.28 L782.31,567.96 L783.54,577.41 L784.81,588.1 L786.01,599.53 L787,611.18 L787.68,622.56Z" fill="#23953e"/>
<path d="M793.56,622.44 L792.8,612.98 L791.58,602.92 L789.99,592.82 L788.15,583.27 L786.14,574.84 L784.07,568.13 L782.02,563.71 L779.98,562.18 L778.55,564.3 L778.55,564.3 L780.05,562.54 L781.44,564.06 L783.14,568.45 L784.9,575.15 L786.62,583.57 L788.19,593.11 L789.49,603.18 L790.44,613.2 L790.93,622.56Z" fill="#66bd55"/>
<path d="M798.44,622.54 L798.49,614.38 L798.57,606.52 L798.69,599.02 L798.84,591.93 L799.03,585.29 L799.24,579.15 L799.48,573.56 L799.75,568.57 L800.01,564.22 L800.01,564.22 L799.31,568.53 L798.67,573.49 L798.08,579.07 L797.52,585.2 L796.99,591.84 L796.51,598.93 L796.06,606.44 L795.66,614.3 L795.29,622.46Z" fill="#12702f"/>
<path d="M805.44,622.5 L805.39,609.4 L805.39,598.02 L805.43,588.15 L805.5,579.59 L805.57,572.11 L805.64,565.5 L805.68,559.56 L805.69,554.08 L805.64,548.84 L805.64,548.84 L805.36,554.07 L805.06,559.54 L804.73,565.47 L804.4,572.07 L804.07,579.55 L803.75,588.12 L803.46,597.99 L803.2,609.38 L803.01,622.5Z" fill="#1f8d3b"/>
<path d="M821.87,622.35 L820.37,612.89 L818.01,605.2 L814.98,598.95 L811.5,593.76 L807.78,589.23 L803.98,584.96 L800.26,580.52 L796.77,575.49 L793.65,569.46 L793.65,569.46 L796.34,575.72 L799.52,581.04 L802.97,585.79 L806.47,590.3 L809.82,594.96 L812.85,600.13 L815.38,606.19 L817.28,613.55 L818.38,622.65Z" fill="#12702f"/>
<path d="M837.29,622.23 L835.2,611.05 L832.74,599.58 L829.95,588.38 L826.87,578.01 L823.55,569.02 L820.01,561.98 L816.27,557.45 L812.37,556.11 L808.74,558.55 L808.74,558.55 L812.43,556.59 L815.7,558.14 L818.91,562.63 L822,569.65 L824.93,578.61 L827.62,588.98 L830.03,600.16 L832.13,611.62 L833.87,622.77Z" fill="#1a8438"/>
<path d="M841.96,622.45 L841.29,613.38 L840.37,604.64 L839.19,596.51 L837.77,589.27 L836.12,583.18 L834.26,578.52 L832.17,575.57 L829.86,574.67 L827.59,576.12 L827.59,576.12 L829.89,574.95 L831.81,575.95 L833.58,578.86 L835.19,583.47 L836.6,589.52 L837.8,596.73 L838.76,604.82 L839.47,613.52 L839.93,622.55Z" fill="#2c9f44"/>
<path d="M845.03,622.5 L844.9,616.15 L844.84,609.85 L844.83,603.7 L844.84,597.77 L844.88,592.14 L844.92,586.89 L844.94,582.11 L844.94,577.86 L844.87,574.24 L844.87,574.24 L844.49,577.84 L844.11,582.07 L843.73,586.84 L843.34,592.08 L842.96,597.71 L842.6,603.64 L842.29,609.8 L842.02,616.11 L841.82,622.5Z" fill="#1a8438"/>
<path d="M846.48,622.49 L846.13,611.06 L845.51,599.57 L844.7,588.5 L843.75,578.31 L842.75,569.46 L841.76,562.43 L840.86,557.68 L840.03,555.59 L839.56,556.96 L839.56,556.96 L839.81,555.91 L840.16,557.82 L840.75,562.57 L841.43,569.61 L842.13,578.45 L842.78,588.64 L843.31,599.69 L843.64,611.14 L843.71,622.51Z" fill="#1f8d3b"/>
<path d="M850.79,622.45 L849.92,610.47 L848.5,597.9 L846.69,585.38 L844.67,573.5 L842.61,562.9 L840.69,554.19 L839.07,548.01 L837.92,544.94 L837.45,545.74 L837.45,545.74 L837.59,545.13 L838.39,548.19 L839.7,554.41 L841.32,563.15 L843.09,573.77 L844.82,585.65 L846.35,598.16 L847.49,610.68 L848.07,622.55Z" fill="#23953e"/>
<path d="M644.7,552.2 Q645.35,587.35 662,622.5" fill="none" stroke="#2b6e3c" stroke-width="1.1"/><path d="M635.5,540.6 Q637.12,548.76 644.7,552.2 Q643.08,544.04 635.5,540.6 Z" fill="#5daf4c"/><path d="M637.34,542.92 L642.4,549.3" stroke="#7cc462" stroke-width="1" opacity="0.7"/>
<path d="M703.9,551.4 Q702.95,586.95 690,622.5" fill="none" stroke="#2b6e3c" stroke-width="1.1"/><path d="M710.2,536.3 Q703.54,542.39 703.9,551.4 Q710.56,545.31 710.2,536.3 Z" fill="#5daf4c"/><path d="M708.94,539.32 L705.48,547.62" stroke="#7cc462" stroke-width="1" opacity="0.7"/>
<path d="M767.5,551.5 Q758.5,587 755.5,622.5" fill="none" stroke="#2b6e3c" stroke-width="1.1"/><path d="M758.8,622.57 L759.57,614.6 L761.37,605.57 L764.04,595.81 L767.4,585.64 L771.25,575.38 L775.42,565.33 L779.73,555.8 L783.99,547.09 L788,539.5 L788,539.5 L783.67,546.92 L779.13,555.5 L774.54,564.93 L770.09,574.9 L765.96,585.11 L762.33,595.26 L759.37,605.05 L757.26,614.2 L756.2,622.43Z" fill="#2a9a44"/><path d="M774,536.5 Q767.26,542.49 767.5,551.5 Q774.24,545.51 774,536.5 Z" fill="#5daf4c"/><path d="M772.7,539.5 L769.12,547.75" stroke="#7cc462" stroke-width="1" opacity="0.7"/>
<path d="M791.7,551.5 Q782.7,587 779.7,622.5" fill="none" stroke="#2b6e3c" stroke-width="1.1"/><path d="M783,622.57 L783.77,614.6 L785.57,605.57 L788.24,595.81 L791.6,585.64 L795.45,575.38 L799.62,565.33 L803.93,555.8 L808.19,547.09 L812.2,539.5 L812.2,539.5 L807.87,546.92 L803.33,555.5 L798.74,564.93 L794.29,574.9 L790.16,585.11 L786.53,595.26 L783.57,605.05 L781.46,614.2 L780.4,622.43Z" fill="#2a9a44"/><path d="M798.2,536.5 Q791.46,542.49 791.7,551.5 Q798.44,545.51 798.2,536.5 Z" fill="#5daf4c"/><path d="M796.9,539.5 L793.33,547.75" stroke="#7cc462" stroke-width="1" opacity="0.7"/>
<path d="M813.1,551.5 Q804.1,587 801.1,622.5" fill="none" stroke="#2b6e3c" stroke-width="1.1"/><path d="M804.4,622.57 L805.17,614.6 L806.97,605.57 L809.64,595.81 L813,585.64 L816.85,575.38 L821.02,565.33 L825.33,555.8 L829.59,547.09 L833.6,539.5 L833.6,539.5 L829.27,546.92 L824.73,555.5 L820.14,564.93 L815.69,574.9 L811.56,585.11 L807.93,595.26 L804.97,605.05 L802.86,614.2 L801.8,622.43Z" fill="#2a9a44"/><path d="M819.6,536.5 Q812.86,542.49 813.1,551.5 Q819.84,545.51 819.6,536.5 Z" fill="#5daf4c"/><path d="M818.3,539.5 L814.73,547.75" stroke="#7cc462" stroke-width="1" opacity="0.7"/>
<path d="M834.4,554 Q825.4,588.25 822.4,622.5" fill="none" stroke="#2b6e3c" stroke-width="1.1"/><path d="M825.7,622.57 L826.47,614.61 L828.27,605.6 L830.94,595.91 L834.3,585.87 L838.15,575.81 L842.32,566.08 L846.62,556.98 L850.88,548.85 L854.9,542 L854.9,542 L850.57,548.67 L846.03,556.67 L841.44,565.66 L837,575.32 L832.86,585.33 L829.23,595.35 L826.27,605.08 L824.16,614.21 L823.1,622.43Z" fill="#2a9a44"/><path d="M840.9,539 Q834.16,544.99 834.4,554 Q841.14,548.01 840.9,539 Z" fill="#5daf4c"/><path d="M839.6,542 L836.02,550.25" stroke="#7cc462" stroke-width="1" opacity="0.7"/>
<g font-family="Liberation Sans" fill="#000">
<text transform="translate(35.75,162.80) scale(1,0.95)" font-size="23.00">Solar Panel</text>
<text transform="translate(274.45,258.10) scale(1,0.95)" font-size="23.00">Sun Rays</text>
<text transform="translate(426.45,372.00) scale(1,0.95)" font-size="23.00">Overhead Tank</text>
<text transform="translate(167.75,450.00) scale(1,0.95)" font-size="23.00">Pump Controller</text>
<text transform="translate(259.15,524.30) scale(1,0.95)" font-size="23.00">Pump</text>
<text transform="translate(675.55,665.80) scale(1,0.95)" font-size="23.00">Ground Level</text>
<text transform="translate(294.83,804.60) scale(1,0.95)" font-size="33.30">SURFACE PUMP</text>
</g>
<g fill="#d2d2d2"><rect x="0" y="0" width="2" height="833"/><rect x="0" y="0" width="851" height="1"/><rect x="850" y="0" width="1" height="833"/><rect x="0" y="831" width="851" height="2"/></g>
</svg>
</body></html>
